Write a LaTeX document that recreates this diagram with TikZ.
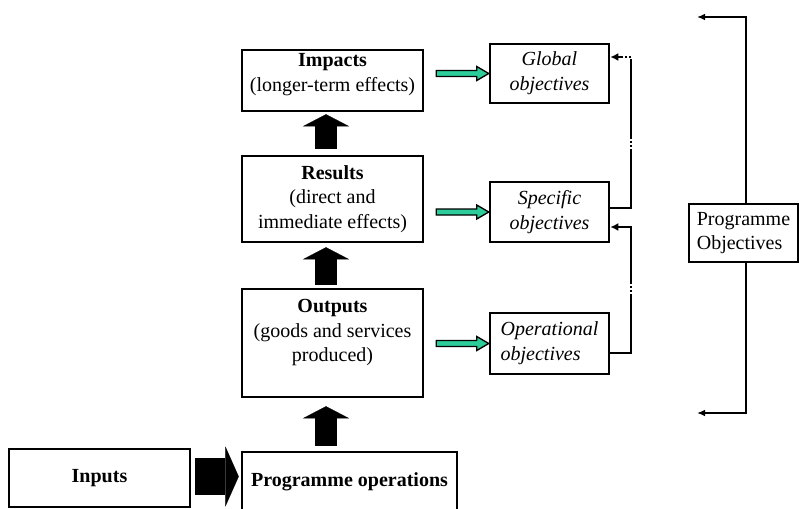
\documentclass[tikz,border=0pt]{standalone}
\usepackage{fontspec}
\setmainfont{Liberation Serif}
\usetikzlibrary{arrows.meta,calc}
\definecolor{goalgreen}{RGB}{45,205,155}

\tikzset{
  stage/.style={draw,line width=1.9pt,inner sep=0.75pt,align=center,font=\fontsize{15}{18.5}\selectfont},
  goal/.style={draw,line width=1.9pt,inner sep=0.75pt,align=center,minimum width=89.25pt,font=\fontsize{15}{18.5}\selectfont\itshape},
  uparrow/.style={line width=16.5pt,-{Triangle[length=9pt,width=34.5pt,line width=0.1pt]}},
  feedback/.style={line width=1.6pt,dash pattern=on 60pt off 1.5pt on 1.5pt off 1.5pt on 1.5pt off 1.5pt,-{Latex[length=6pt,width=6pt]}},
  bracket/.style={line width=1.1pt,-{Latex[length=6pt,width=5pt]}}
}

\newcommand{\goalarrow}[2]{%
  \draw[line width=1pt,fill=goalgreen] ($(#1.east |- #2.west)+(12,-3)$) -- ($(#2.west)+(-12,-3)$) -- ($(#2.west)+(-12,-7)$) -- (#2.west) -- ($(#2.west)+(-12,7)$) -- ($(#2.west)+(-12,3)$) -- ($(#1.east |- #2.west)+(12,3)$) -- cycle;}

\begin{document}
\begin{tikzpicture}[x=0.75pt,y=0.75pt,yscale=-1,xscale=1]
        \useasboundingbox (0,0) rectangle (799,508);

        \node[stage,minimum width=135.75pt,minimum height=45.75pt] (impacts) at (332.5,80.5) {\textbf{Impacts}\\(longer-term effects)\\[-6pt]\mbox{}};
        \node[stage,minimum width=135.75pt,minimum height=64.5pt] (results) at (332.5,199) {\textbf{Results}\\(direct and\\immediate effects)};
        \node[stage,minimum width=135.75pt,minimum height=81pt] (outputs) at (332.5,343) {\textbf{Outputs}\\(goods and services\\produced)\\\mbox{}};
        \node[stage,minimum width=161.25pt,minimum height=45pt] (progops) at (349.5,482) {\textbf{Programme operations}};
        \node[stage,minimum width=135.75pt,minimum height=43.5pt] (inputs) at (99.5,478) {\textbf{Inputs}};

        \node[goal,minimum height=44.25pt] (global) at (549.5,73.5) {Global\\objectives};
        \node[goal,minimum height=45pt] (specific) at (549.5,212) {Specific\\objectives};
        \node[goal,minimum height=45.75pt,align=left] (operational) at (549.5,343.5) {Operational\\objectives};

        \node[stage,line width=1.5pt,align=left,minimum width=81.75pt,minimum height=43.5pt] (progobj) at (743.5,233) {Programme\\Objectives};

        \draw[uparrow] ($(results.north)+(-6.5,-6)$) -- ($(impacts.south)+(-6.5,2)$);
        \draw[uparrow] ($(outputs.north)+(-6.5,-3)$) -- ($(results.south)+(-6.5,4)$);
        \draw[uparrow] ($(progops.north)+(-23.5,-5)$) -- ($(outputs.south)+(-6.5,8)$);
        \draw[line width=27.75pt,-{Triangle[length=10pt,width=45pt,line width=0.1pt]}] ($(inputs.east)+(4,-1.5)$) -- ($(progops.west |- inputs.east)+(-2,-1.5)$);

        \goalarrow{impacts}{global}
        \goalarrow{results}{specific}
        \goalarrow{outputs}{operational}

        \draw[feedback] ($(specific.east)+(0,-4)$) -- ++(21,0) |- ($(global.east)+(0,-16.5)$);
        \draw[feedback] ($(operational.east)+(0,9.5)$) -- ++(21,0) |- ($(specific.east)+(0,15)$);

        \coordinate (bracktop) at (697,17);
        \coordinate (brackbot) at (697,413);
        \draw[bracket] ($(progobj.north)+(2.5,0)$) |- (bracktop);
        \draw[bracket] ($(progobj.south)+(2.5,0)$) |- (brackbot);
\end{tikzpicture}
\end{document}
